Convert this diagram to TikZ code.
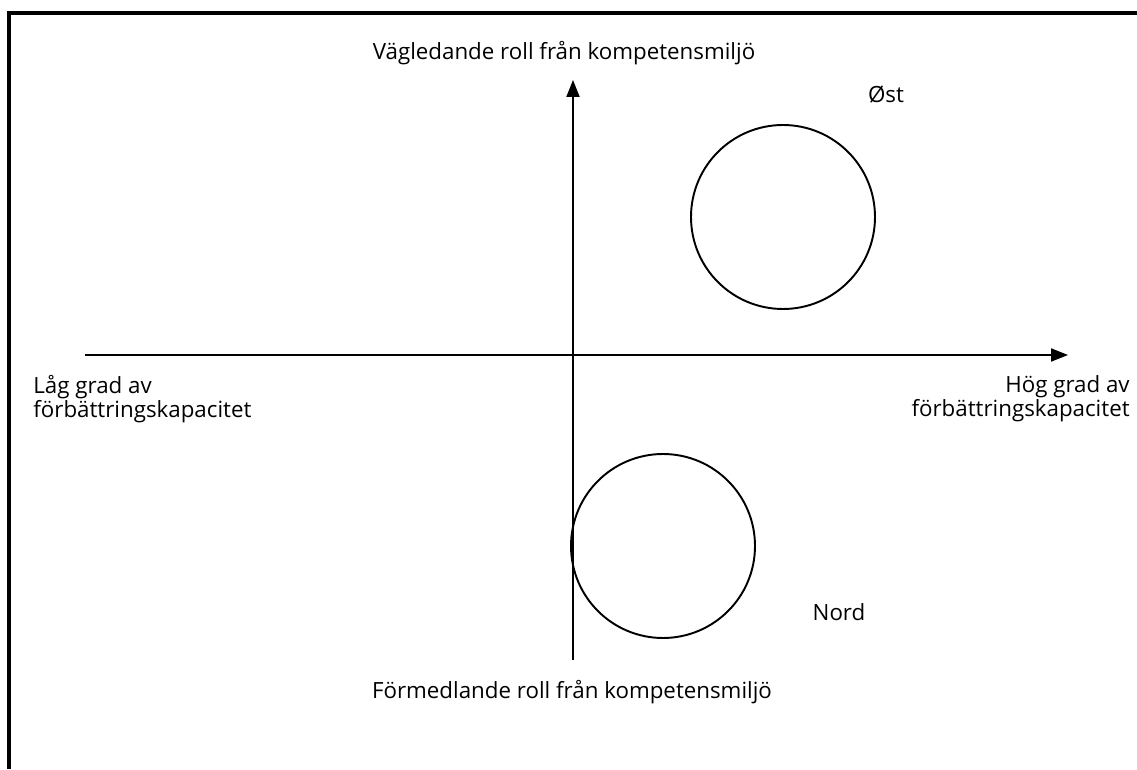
\documentclass[tikz,border=0pt]{standalone}
\usepackage{fontspec}
\setmainfont{Open Sans}
\usetikzlibrary{arrows.meta}
\begin{document}
\begin{tikzpicture}[
  axis/.style={line width=1.1pt,-{Triangle[length=0.34cm,width=0.26cm]}},
  ring/.style={draw,circle,line width=1.1pt,minimum size=3.68cm,inner sep=0pt},
  lab/.style={font=\fontsize{12.7}{11.5}\selectfont,inner sep=0pt},
]
  \useasboundingbox (0,0) rectangle (22.74,15.38);
  \draw[line width=2pt] (0.18,0) |- (22.74,15.12);

  \coordinate (xl) at (1.70,8.28);
  \coordinate (xr) at (21.36,8.28);
  \coordinate (yb) at (11.46,2.18);
  \coordinate (yt) at (11.46,13.78);
  \draw[axis] (xl) -- (xr);
  \draw[axis] (yb) -- (yt);

  \node[ring] (ostring) at (15.66,11.04) {};
  \node[ring] (nordring) at (13.26,4.46) {};

  \node[lab,anchor=base] (top) at (11.28,14.18) {Vägledande roll från kompetensmiljö};
  \node[lab,anchor=base] (bottom) at (11.44,1.42) {Förmedlande roll från kompetensmiljö};
  \node[lab,anchor=base] (ost) at (17.72,13.32) {Øst};
  \node[lab,anchor=base] (nord) at (16.78,2.98) {Nord};
  \node[lab,anchor=north west,align=left] (low) at (0.66,7.88) {Låg grad av\\förbättringskapacitet};
  \node[lab,anchor=north east,align=right] (high) at (22.60,7.88) {Hög grad av\\förbättringskapacitet};
\end{tikzpicture}
\end{document}
